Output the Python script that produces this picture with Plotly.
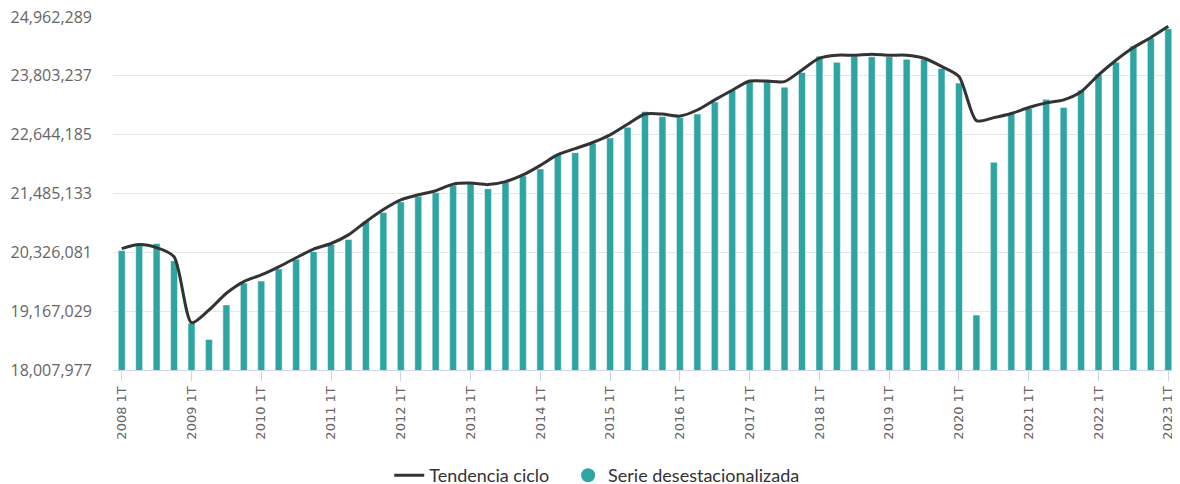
import plotly.graph_objects as go

years = list(range(2008, 2024))
quarters = ["1T", "2T", "3T", "4T"]
categories = [f"{y} {q}" for y in years for q in quarters][:61]

serie_desestacionalizada = [
    20360000, 20470000, 20500000, 20160000,
    18930000, 18610000, 19290000, 19720000,
    19760000, 20000000, 20190000, 20340000,
    20480000, 20580000, 20940000, 21110000,
    21320000, 21430000, 21500000, 21650000,
    21680000, 21580000, 21710000, 21830000,
    21970000, 22260000, 22290000, 22470000,
    22580000, 22790000, 23100000, 23000000,
    22980000, 23050000, 23290000, 23520000,
    23710000, 23720000, 23580000, 23870000,
    24190000, 24070000, 24190000, 24180000,
    24180000, 24130000, 24130000, 23950000,
    23660000, 19090000, 22100000, 23060000,
    23160000, 23340000, 23180000, 23520000,
    23840000, 24070000, 24390000, 24550000,
    24730000,
]

tendencia_ciclo = [
    20400000, 20480000, 20420000, 20240000,
    18940000, 19190000, 19520000, 19750000,
    19880000, 20040000, 20220000, 20390000,
    20500000, 20670000, 20930000, 21170000,
    21360000, 21460000, 21540000, 21670000,
    21690000, 21660000, 21720000, 21850000,
    22040000, 22250000, 22370000, 22490000,
    22640000, 22850000, 23050000, 23050000,
    23010000, 23130000, 23330000, 23520000,
    23700000, 23700000, 23690000, 23920000,
    24150000, 24210000, 24210000, 24230000,
    24210000, 24210000, 24150000, 23990000,
    23790000, 22920000, 22980000, 23060000,
    23180000, 23270000, 23330000, 23490000,
    23820000, 24110000, 24360000, 24560000,
    24780000,
]

y_ticks = [18007977, 19167029, 20326081, 21485133, 22644185, 23803237, 24962289]
x_ticks = [f"{y} 1T" for y in years]

TEAL = "#2ea5a2"
DARK = "#333333"
NBSP = "\u00a0"

fig = go.Figure()
fig.add_trace(go.Bar(
    x=categories, y=serie_desestacionalizada,
    marker=dict(color=TEAL, line=dict(color="#ffffff", width=0.5)),
    showlegend=False, name="Serie desestacionalizada", hoverinfo="skip",
))
fig.add_trace(go.Scatter(
    x=categories, y=tendencia_ciclo, mode="lines",
    line=dict(color=DARK, width=3, shape="spline", smoothing=0.7),
    name="Tendencia ciclo" + NBSP * 3, hoverinfo="skip", cliponaxis=False,
))
# legend proxy for bar series (circle symbol)
fig.add_trace(go.Scatter(
    x=[None], y=[None], mode="markers",
    marker=dict(color=TEAL, size=14, symbol="circle"),
    name="Serie desestacionalizada",
))

# page body has an 8px margin, so the figure is sized to end at the window edge
fig.update_layout(
    width=1172, height=476,
    margin=dict(l=105, r=3, t=9, b=114, autoexpand=False),
    paper_bgcolor="white", plot_bgcolor="white",
    bargap=0.6,
    showlegend=True,
    legend=dict(
        orientation="h", x=0.2596, xanchor="left", y=-0.299, yanchor="middle",
        font=dict(family="Lato, Open Sans, sans-serif", size=18, color="#333333"),
        itemwidth=30, tracegroupgap=0,
    ),
    xaxis=dict(
        type="category", categoryorder="array", categoryarray=categories,
        range=[-0.5, 60.5], automargin=False,
        tickmode="array", tickvals=x_ticks, ticktext=x_ticks,
        tickangle=-90,
        tickfont=dict(family="DejaVu Sans", size=13, color="#666666"),
        showgrid=False, showline=True, linecolor="#ccd6eb", linewidth=1,
        ticks="outside", ticklen=10, tickcolor="#ccd6eb",
        zeroline=False,
    ),
    yaxis=dict(
        range=[18007977, 24962289], automargin=False,
        tickmode="array", tickvals=y_ticks,
        ticktext=[f"{v:,}" for v in y_ticks],
        tickfont=dict(family="Open Sans", size=16, color="#666666"),
        showgrid=True, gridcolor="#e6e6e6", gridwidth=1,
        zeroline=False, ticks="", ticklabelstandoff=20,
        ticklabeloverflow="allow",
    ),
)

fig.write_html("out.html")
